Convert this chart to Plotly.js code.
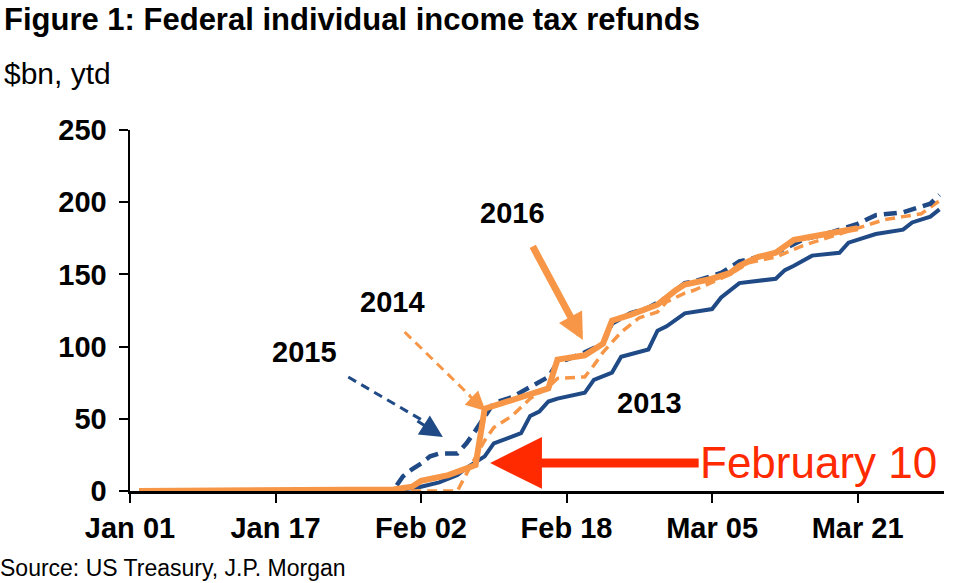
<!DOCTYPE html>
<html>
<head>
<meta charset="utf-8">
<script src="https://cdn.plot.ly/plotly-3.0.1.min.js"></script>
<style>html,body{margin:0;padding:0;background:#fff;}#chart{width:959px;height:583px;}</style>
</head>
<body>
<div id="chart"></div>
<script>
// Day of year offset (0 = Jan 01), cumulative refunds $bn
const tickDays = [0, 16, 32, 48, 64, 80];
const tickLabels = ['Jan 01', 'Jan 17', 'Feb 02', 'Feb 18', 'Mar 05', 'Mar 21'];

const days2013 = [1,28,30,32,34,36,37,39,40,43,44,45,46,47,50,51,53,54,57,58,59,61,64,65,67,71,72,73,75,78,79,82,85,86,88,89];
const vals2013 = [0,0,1,3,6,11,16,24,33,40,52,55,62,64,68,77,82,93,98,111,114,123,126,134,144,147,153,156,163,165,172,178,181,186,190,195];

const days2014 = [1,36,37,38,39,40,41,42,43,44,45,46,47,50,51,52,54,56,58,59,61,62,66,68,71,74,77,80,83,85,87,89];
const vals2014 = [0,0,12,24,35,44,48,52,58,64,68,72,78,79,87,96,110,120,124,131,137,139,150,158,162,170,176,182,188,190,192,201];

const days2015 = [1,28,29,30,31,32,33,34,36,37,38,39,40,42,44,46,47,48,50,52,53,55,57,59,61,62,65,67,69,71,74,77,80,82,85,86,88,89];
const vals2015 = [0,0,1,10,15,19,24,26,26,33,42,52,61,65,72,79,89,91,96,102,116,123,127,134,144,145,151,159,162,165,174,179,185,191,193,195,199,205];

const days2016 = [1,28,29,31,32,35,37,38,39,43,46,47,50,52,53,55,58,60,61,64,66,67,69,71,73,74,78,80];
const vals2016 = [0,0.5,1,3,7,11,16,18,57,65,71,91,94,102,118,122,129,139,143,147,151,156,162,165,174,175,179,182];

const seriesNames = ['2013', '2014', '2015', '2016'];

const BLUE = '#1F4A86';
const ORANGE = '#F79646';
const RED = '#FF2A00';
const FONT = 'Liberation Sans, Arial, sans-serif';

const traces = [
  {x: days2013, y: vals2013, name: seriesNames[0], mode: 'lines', line: {color: BLUE, width: 4}},
  {x: days2014, y: vals2014, name: seriesNames[1], mode: 'lines', line: {color: ORANGE, width: 3.5, dash: '10px,6px'}},
  {x: days2015, y: vals2015, name: seriesNames[2], mode: 'lines', line: {color: BLUE, width: 4.5, dash: '13px,7px'}},
  {x: days2016, y: vals2016, name: seriesNames[3], mode: 'lines', line: {color: ORANGE, width: 6}}
];

const lblFont = {family: FONT, size: 29, color: '#000', weight: 'bold'};

const layout = {
  width: 959, height: 583,
  margin: {l: 130, r: 15, t: 130, b: 92},
  paper_bgcolor: '#fff', plot_bgcolor: '#fff',
  showlegend: false,
  title: {text: 'Figure 1: Federal individual income tax refunds', x: 4/959, xanchor: 'left', xref: 'container',
          y: 1 - 19/583, yanchor: 'middle', yref: 'container',
          font: {family: FONT, size: 31, color: '#000', weight: 'bold'}},
  xaxis: {range: [0, 89.5], tickvals: tickDays, ticktext: tickLabels, ticks: 'outside', ticklen: 9, tickwidth: 2,
          tickcolor: '#000', showline: true, linewidth: 3, linecolor: '#000', showgrid: false, zeroline: false,
          tickfont: {family: FONT, size: 29, color: '#000', weight: 'bold'}, fixedrange: true},
  yaxis: {range: [0, 250], dtick: 50, tick0: 0, ticks: 'outside', ticklen: 9, tickwidth: 2, tickcolor: '#000',
          showline: true, linewidth: 2.5, linecolor: '#000', showgrid: false, zeroline: false,
          tickfont: {family: FONT, size: 29, color: '#000', weight: 'bold'}, ticklabelstandoff: 6, fixedrange: true},
  shapes: [
    {type: 'line', xref: 'x', yref: 'y', x0: 24.0, y0: 78.9, x1: 32.0, y1: 49.5, line: {color: BLUE, width: 3, dash: '9px,6px'}},
    {type: 'line', xref: 'x', yref: 'y', x0: 30.2, y0: 110.1, x1: 37.4, y1: 65.8, line: {color: ORANGE, width: 3, dash: '9px,6px'}}
  ],
  annotations: [
    {xref: 'paper', yref: 'paper', x: (2-130)/814, y: (491-74)/361, xanchor: 'left', yanchor: 'middle', showarrow: false,
     text: '$bn, ytd', font: {family: FONT, size: 30, color: '#000'}},
    {xref: 'paper', yref: 'paper', x: (-2-130)/814, y: (491-568)/361, xanchor: 'left', yanchor: 'middle', showarrow: false,
     text: 'Source: US Treasury, J.P. Morgan', font: {family: FONT, size: 23, color: '#000'}},
    {x: 19.2, y: 96, text: '2015', showarrow: false, font: lblFont},
    {x: 28.9, y: 131, text: '2014', showarrow: false, font: lblFont},
    {x: 42.1, y: 192.5, text: '2016', showarrow: false, font: lblFont},
    {x: 57.1, y: 61, text: '2013', showarrow: false, font: lblFont},
    // dashed-arrow heads
    {x: 34.4, y: 37.4, text: '', showarrow: true, ax: -27, ay: -17, arrowhead: 2, arrowsize: 1.5, arrowwidth: 3, arrowcolor: BLUE, standoff: 0},
    {x: 39.1, y: 55.4, text: '', showarrow: true, ax: -18, ay: -17, arrowhead: 2, arrowsize: 1.3, arrowwidth: 3, arrowcolor: ORANGE, standoff: 0},
    // 2016 arrow
    {x: 49.8, y: 104.6, text: '', showarrow: true, ax: -51, ay: -95, arrowhead: 2, arrowsize: 0.75, arrowwidth: 7, arrowcolor: ORANGE, standoff: 0},
    // February 10 arrow
    {x: 39.6, y: 19.4, text: '', showarrow: true, ax: 210, ay: 0, arrowhead: 2, arrowsize: 1.15, arrowwidth: 9, arrowcolor: RED, standoff: 0},
    {x: 62.4, y: 19.4, text: 'February 10', showarrow: false, xanchor: 'left', yanchor: 'middle', font: {family: FONT, size: 44, color: RED}}
  ]
};

Plotly.newPlot('chart', traces, layout, {staticPlot: true, displayModeBar: false});
</script>
</body>
</html>
